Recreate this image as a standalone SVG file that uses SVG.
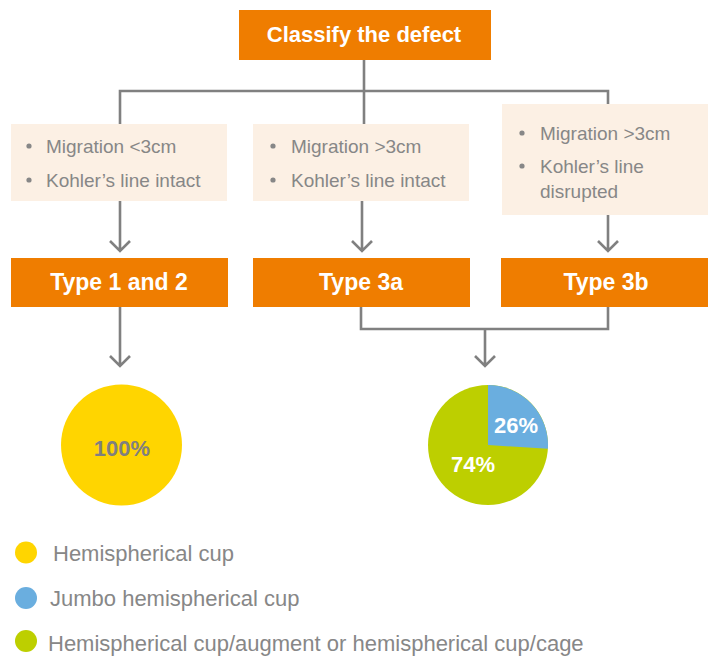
<svg xmlns="http://www.w3.org/2000/svg" width="708" height="657" viewBox="0 0 708 657">
<style>
.hdr{fill:#EF7D00}
.cond{fill:#FCF0E4}
.ht{font-family:"Liberation Sans",Arial,sans-serif;font-weight:bold;fill:#fff;text-anchor:middle}
.ct{font-family:"Liberation Sans",Arial,sans-serif;font-size:19px;fill:#878787}
.bul{fill:#878787}
.conn{stroke:#808080;stroke-width:2.6;fill:none}
.pct{font-family:"Liberation Sans",Arial,sans-serif;font-weight:bold;font-size:22px;text-anchor:middle}
.lg{font-family:"Liberation Sans",Arial,sans-serif;font-size:22px;fill:#878787}
</style>
<rect width="708" height="657" fill="#fff"/>
<g id="connectors">
<path class="conn" d="M364 60V124M120 124V91H608V104"/>
<path class="conn" d="M120 201V251M110 241L120 251L130 241"/>
<path class="conn" d="M362 201V251M352 241L362 251L372 241"/>
<path class="conn" d="M608 215V251M598 241L608 251L618 241"/>
<path class="conn" d="M120 307V366M110 356L120 366L130 356"/>
<path class="conn" d="M361 307V329H608V307M485 329V366M475 356L485 366L495 356"/>
</g>
<g id="classify">
<rect class="hdr" x="239" y="10" width="252" height="50"/>
<text class="ht" x="364" y="42" font-size="22">Classify the defect</text>
</g>
<g id="cond1">
<rect class="cond" x="11" y="124" width="216" height="77"/>
<circle class="bul" cx="29" cy="146" r="2.6"/>
<text class="ct" x="46" y="153">Migration &lt;3cm</text>
<circle class="bul" cx="29" cy="180" r="2.6"/>
<text class="ct" x="46" y="187">Kohler’s line intact</text>
</g>
<g id="cond2">
<rect class="cond" x="253" y="124" width="216" height="77"/>
<circle class="bul" cx="273" cy="146" r="2.6"/>
<text class="ct" x="291" y="153">Migration &gt;3cm</text>
<circle class="bul" cx="273" cy="180" r="2.6"/>
<text class="ct" x="291" y="187">Kohler’s line intact</text>
</g>
<g id="cond3">
<rect class="cond" x="502" y="104" width="206" height="111"/>
<circle class="bul" cx="522" cy="133" r="2.6"/>
<text class="ct" x="540" y="140">Migration &gt;3cm</text>
<circle class="bul" cx="522" cy="166" r="2.6"/>
<text class="ct" x="540" y="173">Kohler’s line</text>
<text class="ct" x="540" y="198">disrupted</text>
</g>
<g id="type12">
<rect class="hdr" x="11" y="258" width="217" height="49"/>
<text class="ht" x="119" y="290" font-size="23">Type 1 and 2</text>
</g>
<g id="type3a">
<rect class="hdr" x="253" y="258" width="217" height="49"/>
<text class="ht" x="361" y="290" font-size="23">Type 3a</text>
</g>
<g id="type3b">
<rect class="hdr" x="501" y="258" width="207" height="49"/>
<text class="ht" x="606" y="290" font-size="23">Type 3b</text>
</g>
<g id="pie1">
<circle cx="121.5" cy="445" r="60.5" fill="#FFD500"/>
<text class="pct" x="122" y="456" fill="#7F7F7F">100%</text>
</g>
<g id="pie2">
<circle cx="488" cy="445" r="60" fill="#BDCF00"/>
<path d="M488 445V385A60 60 0 0 1 547.9 448.8Z" fill="#6AAEDF"/>
<text class="pct" x="516" y="433" fill="#fff">26%</text>
<text class="pct" x="473" y="472" fill="#fff">74%</text>
</g>
<g id="legend">
<circle cx="26" cy="552.5" r="11" fill="#FFD500"/>
<text class="lg" x="53" y="561">Hemispherical cup</text>
<circle cx="26" cy="598" r="11" fill="#6AAEDF"/>
<text class="lg" x="50" y="606">Jumbo hemispherical cup</text>
<circle cx="26" cy="641" r="11" fill="#BDCF00"/>
<text class="lg" x="48" y="651">Hemispherical cup/augment or hemispherical cup/cage</text>
</g>
</svg>
